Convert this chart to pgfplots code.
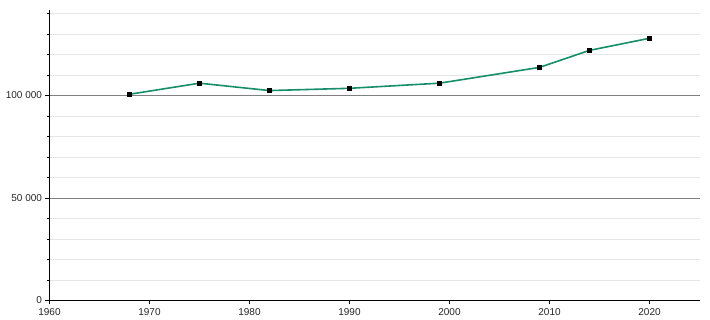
\documentclass[border=0pt]{standalone}
\usepackage{pgfplots}
\pgfplotsset{compat=1.18}
\usepackage{fontspec}
\setmainfont{Liberation Sans}
\definecolor{linegreen}{RGB}{22,142,106}
\definecolor{majgrid}{RGB}{128,128,128}
\definecolor{mingrid}{RGB}{230,230,230}
\begin{document}
\begin{tikzpicture}
\begin{axis}[
  scale only axis,
  width=650pt, height=290.5pt,
  xmin=1960, xmax=2025,
  ymin=0, ymax=141700,
  axis lines=left,
  axis line style={-, black, line width=0.8pt},
  xtick={1960,1970,1980,1990,2000,2010,2020},
  xticklabels={1960,1970,1980,1990,2000,2010,2020},
  ytick={0,50000,100000},
  yticklabels={0,50 000,100 000},
  minor ytick={10000,20000,30000,40000,60000,70000,80000,90000,110000,120000,130000,140000},
  ymajorgrids, yminorgrids,
  major grid style={majgrid, line width=0.8pt},
  minor grid style={mingrid, line width=0.8pt},
  tick style={black, line width=0.8pt},
  major tick length=4pt, minor tick length=2.5pt,
  tick align=outside,
  scaled y ticks=false,
  ticklabel style={font=\fontsize{10}{12}\selectfont, text=black!85},
  clip=false,
]
\addplot[linegreen, line width=1.6pt, mark=square*, mark size=2pt,
  mark options={black, fill=black, line width=0pt}]
coordinates {
(1968,100600)
(1975,106000)
(1982,102400)
(1990,103500)
(1999,106000)
(2009,113700)
(2014,122000)
(2020,127900)
};
\end{axis}
\path (current axis.south west) ++(-49.5pt,-19.5pt) rectangle ++(710pt,320pt);
\end{tikzpicture}
\end{document}
